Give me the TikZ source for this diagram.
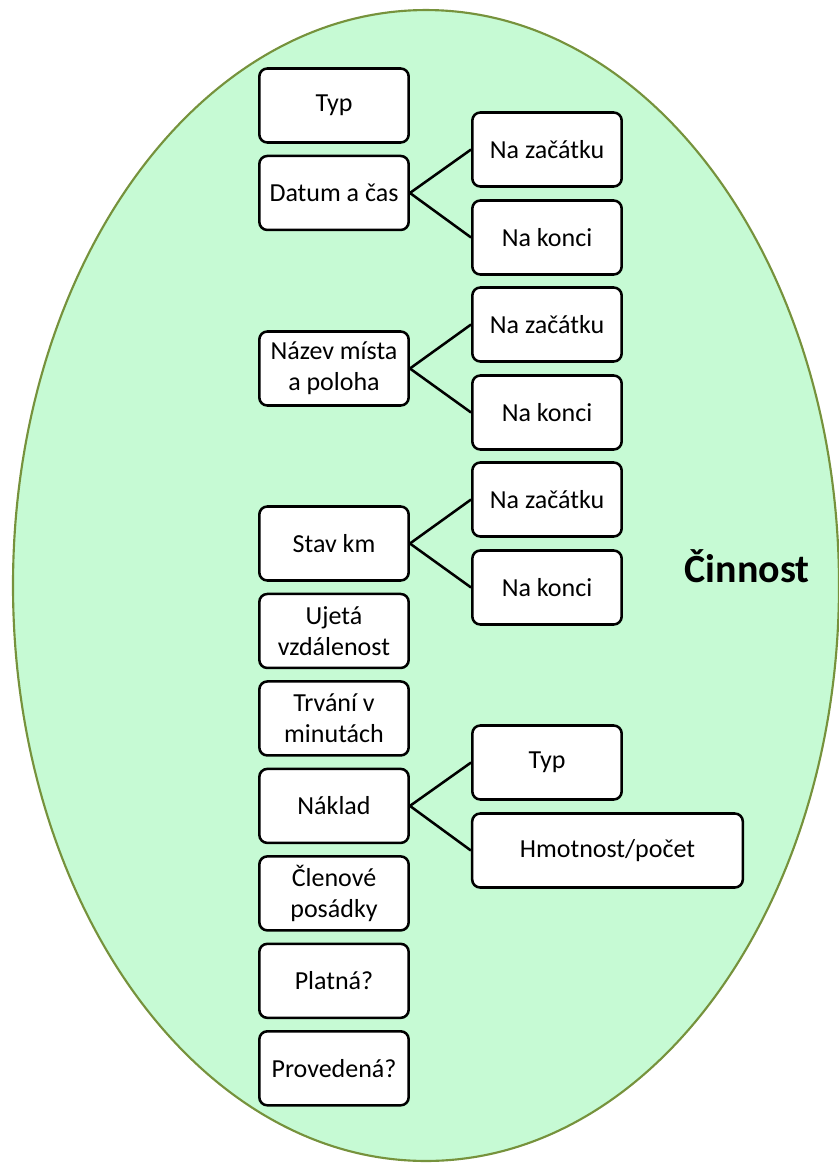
\documentclass[tikz,border=0pt]{standalone}
\usepackage{fontspec}
\setmainfont{Carlito}
\usetikzlibrary{positioning}
\definecolor{mintfill}{RGB}{198,250,212}
\definecolor{olivedge}{RGB}{118,146,60}
\tikzstyle{block} = [rectangle, 
			draw, 
			fill = white, 
			rounded corners = 6pt, 
			line width = 1.9pt, 
			text centered, 
			align = center, 
			minimum width = 112pt, 
			minimum height = 55.5pt, 
			font = \fontsize{19.5}{23}\selectfont]
\tikzstyle{wide} = [block, 
			minimum width = 203pt]
\tikzstyle{link} = [line width = 1.9pt]

\begin{document}
\begin{tikzpicture}[x = 0.75pt, y = -0.75pt, node distance = 8.2pt]
	\useasboundingbox (0,0) rectangle (839,1164);
	\draw [olivedge, fill = mintfill, line width = 1.6pt] (426,585.5) ellipse [x radius = 309.75pt, y radius = 431.6pt];
	\node [font = \fontsize{30}{36}\selectfont\bfseries] (cinnost) at (747,566) {Činnost};
	% left column
	\node [block] (typ) at (334,105.5) {Typ};
	\node [block, below = of typ] (datum) {Datum a čas};
	\node [block] (misto) at (334,368.5) {Název místa\\a poloha};
	\node [block] (stav) at (334,543.5) {Stav km};
	\node [block, below = of stav] (ujeta) {Ujetá\\vzdálenost};
	\node [block, below = of ujeta] (trvani) {Trvání v\\minutách};
	\node [block, below = of trvani] (naklad) {Náklad};
	\node [block, below = of naklad] (clenove) {Členové\\posádky};
	\node [block, below = of clenove] (platna) {Platná?};
	\node [block, below = of platna] (provedena) {Provedená?};
	% right column
	\node [block] (datumZac) at (547,149.5) {Na začátku};
	\node [block] (datumKon) at (547,237.5) {Na konci};
	\node [block] (mistoZac) at (547,324.5) {Na začátku};
	\node [block] (mistoKon) at (547,412.5) {Na konci};
	\node [block] (stavZac) at (547,499.5) {Na začátku};
	\node [block] (stavKon) at (547,587.5) {Na konci};
	\node [block] (nakladTyp) at (547,762.5) {Typ};
	\node [wide] (nakladHm) at (607.5,850.5) {Hmotnost/počet};
	\draw [link] (datum.east) -- (datumZac.west);
	\draw [link] (datum.east) -- (datumKon.west);
	\draw [link] (misto.east) -- (mistoZac.west);
	\draw [link] (misto.east) -- (mistoKon.west);
	\draw [link] (stav.east) -- (stavZac.west);
	\draw [link] (stav.east) -- (stavKon.west);
	\draw [link] (naklad.east) -- (nakladTyp.west);
	\draw [link] (naklad.east) -- (nakladHm.west);
\end{tikzpicture}
\end{document}
